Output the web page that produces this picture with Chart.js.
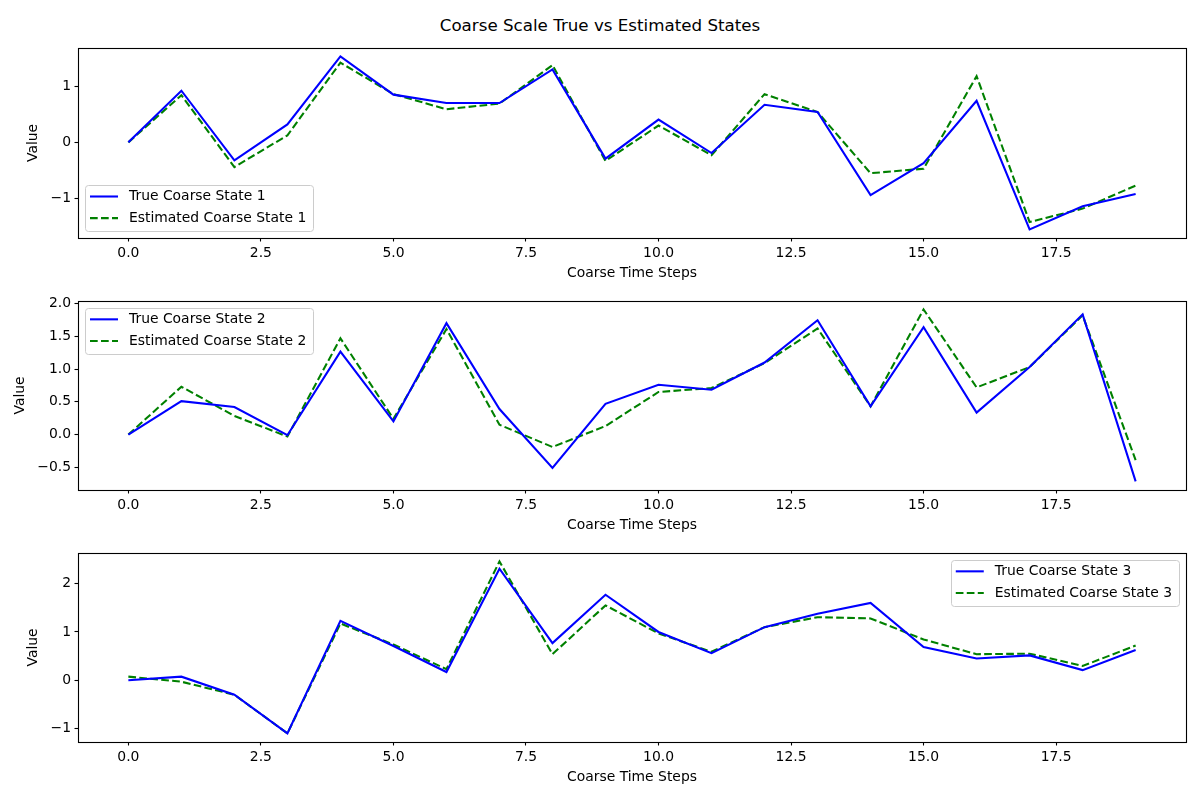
<!DOCTYPE html>
<html><head><meta charset="utf-8">
<script src="https://cdn.jsdelivr.net/npm/chart.js@4.4.1/dist/chart.umd.min.js"></script>
<style>
body{margin:0;background:#fff;width:1200px;height:800px;position:relative;overflow:hidden;font-family:"DejaVu Sans",sans-serif;}
#title{position:absolute;left:0;top:14.5px;width:1200px;text-align:center;font-size:16.7px;line-height:20px;color:#000;}
canvas{position:absolute;left:0;}
</style></head><body>
<div id="title">Coarse Scale True vs Estimated States</div>
<canvas id="c1" width="1200" height="247" style="top:36px"></canvas>
<canvas id="c2" width="1200" height="246" style="top:289px"></canvas>
<canvas id="c3" width="1200" height="246" style="top:541px"></canvas>
<script>
const timeSteps = [0,1,2,3,4,5,6,7,8,9,10,11,12,13,14,15,16,17,18,19];
const xTicks = [0, 2.5, 5, 7.5, 10, 12.5, 15, 17.5];

const true1 = [0.00, 0.92, -0.32, 0.32, 1.53, 0.85, 0.70, 0.70, 1.30, -0.29, 0.405, -0.19, 0.67, 0.54, -0.94, -0.37, 0.74, -1.55, -1.14, -0.92];
const est1  = [0.00, 0.84, -0.44, 0.125, 1.42, 0.86, 0.59, 0.69, 1.375, -0.33, 0.30, -0.23, 0.86, 0.54, -0.55, -0.47, 1.18, -1.42, -1.18, -0.77];
const yTicks1 = [-1, 0, 1];

const true2 = [0.00, 0.51, 0.42, -0.01, 1.265, 0.20, 1.70, 0.39, -0.51, 0.47, 0.76, 0.685, 1.10, 1.745, 0.43, 1.64, 0.335, 1.03, 1.835, -0.715];
const est2  = [0.00, 0.73, 0.285, -0.03, 1.47, 0.24, 1.61, 0.15, -0.19, 0.13, 0.65, 0.71, 1.09, 1.62, 0.43, 1.91, 0.72, 1.03, 1.82, -0.39];
const yTicks2 = [-0.5, 0, 0.5, 1.0, 1.5, 2.0];

const true3 = [0.00, 0.075, -0.30, -1.10, 1.23, 0.71, 0.17, 2.31, 0.77, 1.77, 1.00, 0.56, 1.10, 1.375, 1.60, 0.69, 0.45, 0.515, 0.21, 0.625];
const est3  = [0.075, -0.03, -0.30, -1.10, 1.175, 0.74, 0.23, 2.46, 0.54, 1.55, 0.97, 0.59, 1.10, 1.305, 1.28, 0.845, 0.54, 0.55, 0.295, 0.72];
const yTicks3 = [-1, 0, 1, 2];

const FONT = '"DejaVu Sans"';
const FS = 13.9;
Chart.defaults.color = '#000';
Chart.defaults.font.family = FONT;
Chart.defaults.font.size = FS;

const minus = s => s.replace('-', '\u2212');

const boxPlugin = {
  id: 'mplBox',
  afterDraw(chart) {
    const a = chart.chartArea, ctx = chart.ctx;
    ctx.save();
    ctx.strokeStyle = '#000';
    ctx.lineWidth = 1.1;
    ctx.strokeRect(Math.round(a.left) + 0.5, Math.round(a.top) + 0.5, Math.round(a.right - a.left), Math.round(a.bottom - a.top));
    ctx.restore();
  }
};

const legendPlugin = {
  id: 'mplLegend',
  afterDatasetsDraw(chart, args, opts) {
    const ctx = chart.ctx, a = chart.chartArea;
    ctx.save();
    ctx.font = FS + 'px ' + FONT;
    const items = chart.data.datasets;
    const tw = Math.max(...items.map(d => ctx.measureText(d.label).width));
    const w = 44 + tw + 7, h = 46, pad = 7;
    const x = opts.loc.includes('left') ? a.left + pad : a.right - pad - w;
    const y = opts.loc.includes('upper') ? a.top + pad : a.bottom - pad - h;
    ctx.beginPath();
    ctx.roundRect(Math.round(x) + 0.5, Math.round(y) + 0.5, Math.round(w), h, 3);
    ctx.fillStyle = 'rgba(255,255,255,0.8)';
    ctx.fill();
    ctx.strokeStyle = '#cccccc';
    ctx.lineWidth = 1;
    ctx.stroke();
    items.forEach((d, i) => {
      const cy = y + 11.5 + i * 21.6;
      ctx.beginPath();
      ctx.setLineDash(d.borderDash || []);
      ctx.strokeStyle = d.borderColor;
      ctx.lineWidth = d.borderWidth;
      ctx.moveTo(x + 5, cy);
      ctx.lineTo(x + 33, cy);
      ctx.stroke();
      ctx.setLineDash([]);
      ctx.fillStyle = '#000';
      ctx.textBaseline = 'middle';
      ctx.fillText(d.label, x + 44, cy);
    });
    ctx.restore();
  }
};

function makeChart(id, idx, tr, es, yTicks, fmt, loc, yTitlePad) {
  const all = tr.concat(es);
  const lo = Math.min(...all), hi = Math.max(...all), r = hi - lo;
  const xlo = Math.min(...timeSteps), xhi = Math.max(...timeSteps), xr = xhi - xlo;
  new Chart(document.getElementById(id), {
    type: 'line',
    data: {
      datasets: [
        { label: 'True Coarse State ' + idx, data: timeSteps.map((t, i) => ({x: t, y: tr[i]})),
          borderColor: '#0000ff', borderWidth: 2.08, pointRadius: 0, tension: 0, fill: false },
        { label: 'Estimated Coarse State ' + idx, data: timeSteps.map((t, i) => ({x: t, y: es[i]})),
          borderColor: '#008000', borderWidth: 2.08, borderDash: [7.7, 3.3], pointRadius: 0, tension: 0, fill: false }
      ]
    },
    options: {
      responsive: false, animation: false, devicePixelRatio: 1,
      layout: { padding: { left: 0, right: 14, top: 10, bottom: 0 } },
      plugins: { legend: { display: false }, tooltip: { enabled: false }, mplLegend: { loc } },
      scales: {
        x: {
          type: 'linear', min: xlo - 0.05 * xr, max: xhi + 0.05 * xr,
          afterBuildTicks: s => { s.ticks = xTicks.map(v => ({value: v})); },
          afterFit: s => { s.height = 45; },
          grid: { display: true, drawOnChartArea: false, drawTicks: true, tickLength: 3.5, tickColor: '#000', tickWidth: 1.1 },
          border: { display: false },
          ticks: { padding: 3.5, maxRotation: 0, autoSkip: false, callback: v => minus(v.toFixed(1)), font: { size: FS } },
          title: { display: true, text: 'Coarse Time Steps', font: { size: FS }, padding: { top: 0, bottom: 1.7 } }
        },
        y: {
          type: 'linear', min: lo - 0.05 * r, max: hi + 0.05 * r,
          afterBuildTicks: s => { s.ticks = yTicks.map(v => ({value: v})); },
          afterFit: s => { s.width = 78; },
          grid: { display: true, drawOnChartArea: false, drawTicks: true, tickLength: 3.5, tickColor: '#000', tickWidth: 1.1 },
          border: { display: false },
          ticks: { padding: 3.5, autoSkip: false, callback: v => minus(fmt(v)), font: { size: FS } },
          title: { display: true, text: 'Value', font: { size: FS }, padding: { top: yTitlePad, bottom: 0 } }
        }
      }
    },
    plugins: [boxPlugin, legendPlugin]
  });
}

makeChart('c1', 1, true1, est1, yTicks1, v => v.toFixed(0), 'lower left', 24.7);
makeChart('c2', 2, true2, est2, yTicks2, v => v.toFixed(1), 'upper left', 11.7);
makeChart('c3', 3, true3, est3, yTicks3, v => v.toFixed(0), 'upper right', 24.7);
</script>
</body></html>
